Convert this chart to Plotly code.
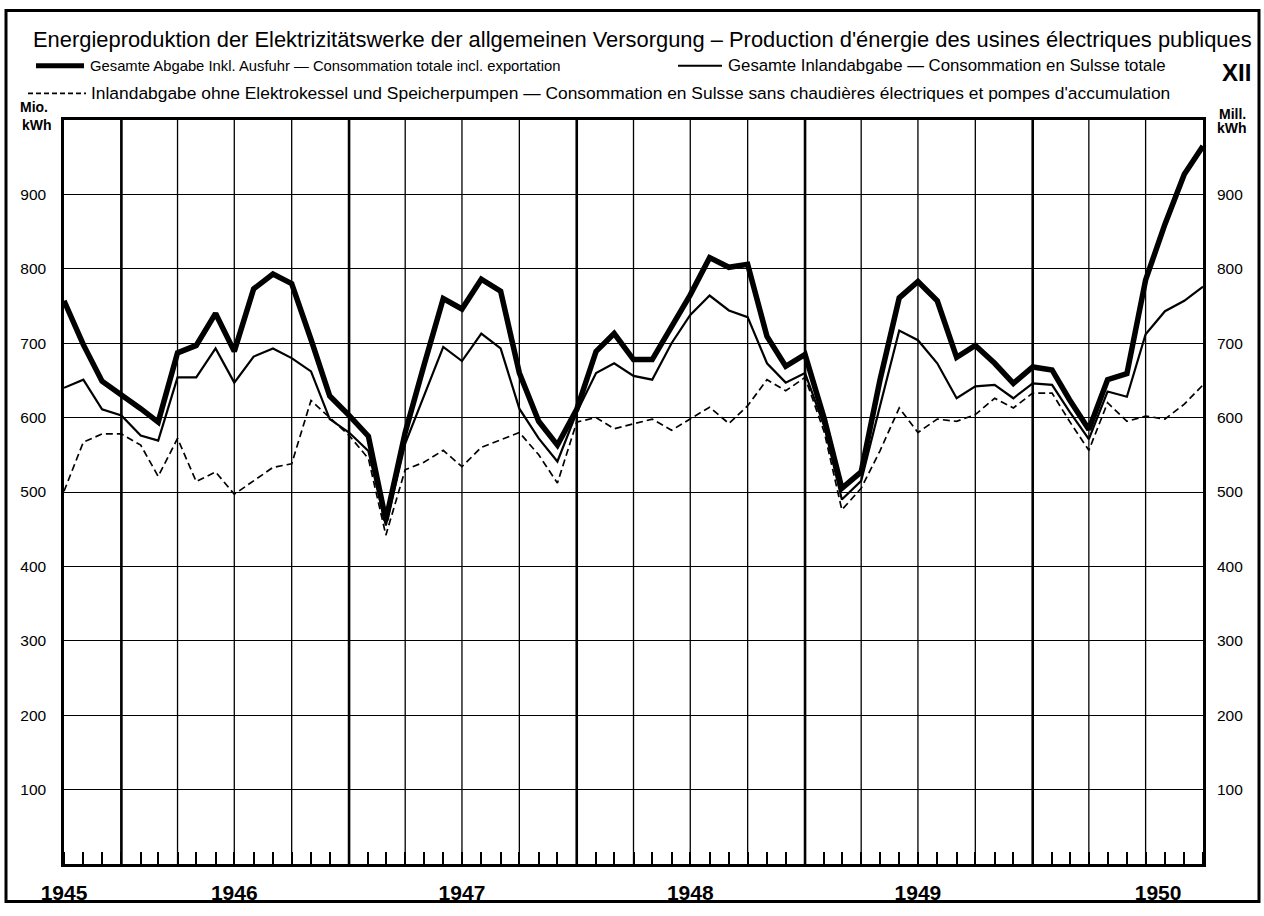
import plotly.graph_objects as go
import pandas as pd

# ---------------- data (Mio. kWh, monthly) ----------------
months = pd.date_range("1945-10-01", "1950-10-01", freq="MS")  # 61 monthly points

total_incl_export = [
    757, 698, 649, 631, 612, 594, 687, 697, 740, 689, 773, 793,
    780, 705, 629, 603, 575, 462, 580, 670, 760, 746, 786, 770,
    660, 595, 563, 611, 689, 713, 678, 678, 722, 765, 815, 802,
    806, 709, 669, 685, 598, 505, 527, 650, 761, 783, 757, 681,
    697, 673, 646, 668, 664, 624, 584, 651, 659, 785, 860, 927,
    965,
]
inland_total = [
    640, 651, 611, 603, 576, 569, 654, 654, 693, 647, 682, 693,
    680, 662, 598, 580, 555, 455, 565, 630, 695, 676, 713, 693,
    612, 572, 541, 607, 660, 673, 656, 651, 700, 738, 764, 744,
    735, 673, 647, 660, 588, 490, 515, 615, 717, 704, 673, 626,
    642, 644, 626, 646, 644, 608, 571, 635, 628, 712, 743, 757,
    776,
]
inland_excl_boilers = [
    501, 567, 578, 578, 563, 521, 572, 514, 527, 497, 515, 533,
    538, 623, 600, 576, 545, 442, 530, 540, 556, 534, 560, 570,
    580, 550, 512, 594, 600, 585, 592, 598, 583, 598, 614, 592,
    616, 651, 636, 654, 580, 476, 505, 555, 613, 580, 598, 595,
    604, 626, 613, 633, 633, 595, 556, 620, 595, 602, 598, 618,
    644,
]

year_tick_dates = ["1945-10-01", "1946-07-01", "1947-07-01", "1948-07-01", "1949-07-01", "1950-07-21"]
year_tick_labels = ["1945", "1946", "1947", "1948", "1949", "1950"]
value_ticks = [100, 200, 300, 400, 500, 600, 700, 800, 900]
quarter_lines = pd.date_range("1946-01-01", "1950-07-01", freq="QS")
year_lines = pd.date_range("1946-01-01", "1950-01-01", freq="YS")

title_text = ("Energieproduktion der Elektrizitätswerke der allgemeinen Versorgung – "
              "Production d'énergie des usines électriques publiques")
leg1a = "Gesamte Abgabe Inkl. Ausfuhr — Consommation totale incl. exportation"
leg1b = "Gesamte Inlandabgabe — Consommation en Sulsse totale"
leg2 = ("Inlandabgabe ohne Elektrokessel und Speicherpumpen — "
        "Consommation en Sulsse sans chaudières électriques et pompes d'accumulation")

# ---------------- geometry helpers ----------------
W, H = 1264, 916
L, R, T, B = 64, 1203, 120, 875


def fx(x):
    return (x - L) / (R - L)


def fy(y):
    return (B - y) / (B - T)


FONT = "Liberation Sans, Arial, sans-serif"

fig = go.Figure()
fig.add_trace(go.Scatter(x=months, y=inland_excl_boilers, mode="lines",
                         line=dict(color="black", width=1.7, dash="7px,4px"),
                         hoverinfo="skip"))
fig.add_trace(go.Scatter(x=months, y=inland_total, mode="lines",
                         line=dict(color="black", width=2.2), hoverinfo="skip"))
fig.add_trace(go.Scatter(x=months, y=total_incl_export, mode="lines",
                         line=dict(color="black", width=5.5), hoverinfo="skip"))
# invisible trace carrying the right-hand value axis
fig.add_trace(go.Scatter(x=months, y=total_incl_export, yaxis="y2", mode="none",
                         hoverinfo="skip"))

fig.update_layout(
    width=W, height=H,
    margin=dict(l=L, r=W - R, t=T, b=H - B, pad=0),
    paper_bgcolor="white", plot_bgcolor="white", showlegend=False,
    font=dict(family=FONT, color="black"),
    xaxis=dict(
        type="date", range=[months[0], months[-1]],
        showgrid=False, zeroline=False,
        tickvals=year_tick_dates,
        ticktext=["<b>%s</b>" % t for t in year_tick_labels],
        tickfont=dict(size=21), ticks="", ticklabelstandoff=8,
        showline=True, linecolor="black", linewidth=2.5, mirror=True,
        minor=dict(dtick="M1", tick0="1945-10-01", ticks="inside", ticklen=12,
                   tickwidth=1.5, tickcolor="black", showgrid=False),
    ),
    yaxis=dict(
        range=[0, 1000], tickvals=value_ticks,
        showgrid=True, gridcolor="black", gridwidth=1.3, zeroline=False,
        showline=True, linecolor="black", linewidth=2.5, mirror=True,
        ticks="", tickfont=dict(size=15.5), ticklabelstandoff=12,
    ),
    yaxis2=dict(
        range=[0, 1000], overlaying="y", side="right", tickvals=value_ticks,
        showgrid=False, zeroline=False, showline=False,
        ticks="", tickfont=dict(size=15.5), ticklabelstandoff=13,
    ),
)

# vertical quarter and year grid lines
for d in quarter_lines:
    fig.add_shape(type="line", xref="x", yref="paper", x0=d, x1=d, y0=0, y1=1,
                  line=dict(color="black", width=1.3), layer="below")
for d in year_lines:
    fig.add_shape(type="line", xref="x", yref="paper", x0=d, x1=d, y0=0, y1=1,
                  line=dict(color="black", width=2.6), layer="below")

# outer frame
fig.add_shape(type="rect", xref="paper", yref="paper",
              x0=fx(6), x1=fx(1259), y0=fy(913), y1=fy(9),
              line=dict(color="black", width=3))

# legend samples
ROW1, ROW2 = 65, 93
fig.add_shape(type="line", xref="paper", yref="paper", x0=fx(36), x1=fx(84),
              y0=fy(ROW1), y1=fy(ROW1), line=dict(color="black", width=5))
fig.add_shape(type="line", xref="paper", yref="paper", x0=fx(678), x1=fx(722),
              y0=fy(ROW1), y1=fy(ROW1), line=dict(color="black", width=2))
fig.add_shape(type="line", xref="paper", yref="paper", x0=fx(28), x1=fx(86),
              y0=fy(ROW2), y1=fy(ROW2), line=dict(color="black", width=1.6, dash="5px,3px"))


def text(x, y, s, size, xanchor="left", bold=False):
    fig.add_annotation(xref="paper", yref="paper", x=fx(x), y=fy(y),
                       text=("<b>%s</b>" % s) if bold else s,
                       showarrow=False, xanchor=xanchor, yanchor="middle",
                       font=dict(size=size, family=FONT, color="black"))


text(642, 38, title_text, 21.9, xanchor="center")
text(88, ROW1, leg1a, 14.8)
text(726, ROW1, leg1b, 16.8)
text(89, ROW2, leg2, 17.4)
text(1236, 72, "XII", 24, xanchor="center", bold=True)
text(34, 107, "Mio.", 14, xanchor="center", bold=True)
text(37, 125, "kWh", 14, xanchor="center", bold=True)
text(1232, 114, "Mill.", 14, xanchor="center", bold=True)
text(1232, 128, "kWh", 14, xanchor="center", bold=True)

fig.write_html("out.html", config={"displayModeBar": False},
               post_script="document.body.style.margin='0';")
